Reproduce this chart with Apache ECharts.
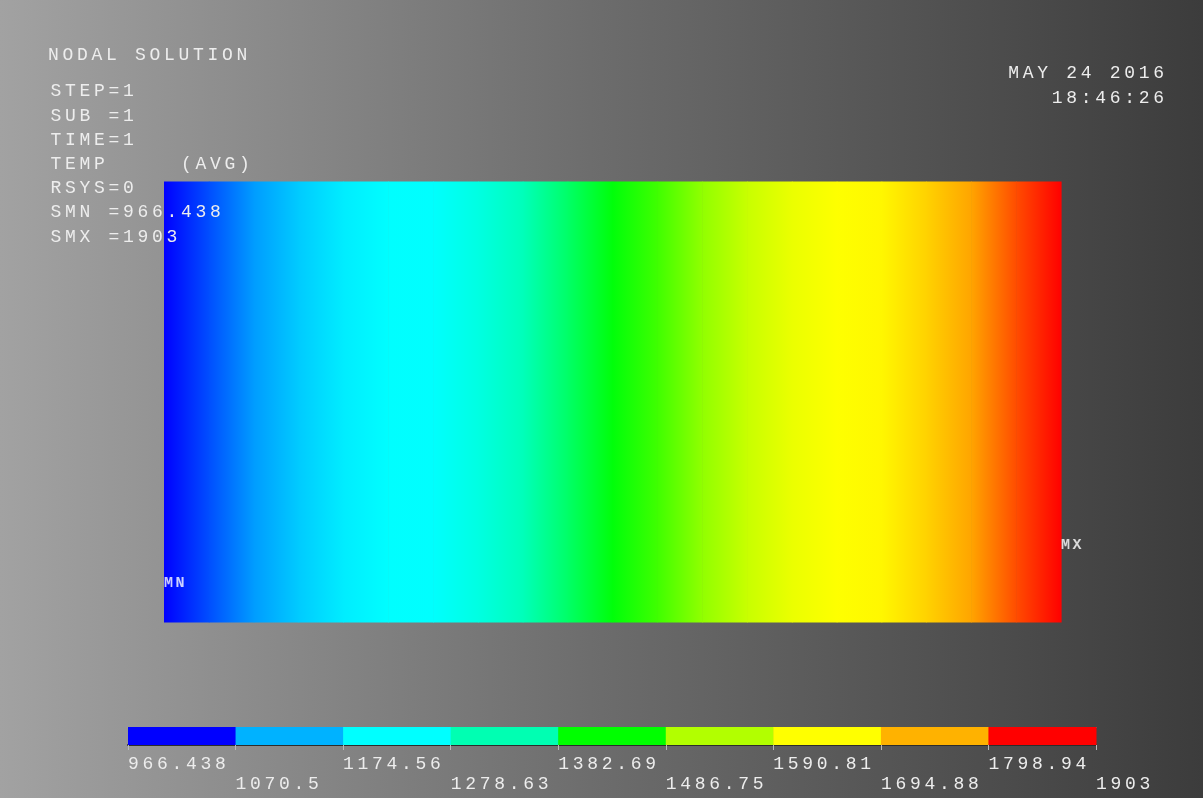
<!DOCTYPE html>
<html>
<head>
<meta charset="utf-8">
<title>NODAL SOLUTION - TEMP</title>
<script src="https://cdn.jsdelivr.net/npm/echarts@6/dist/echarts.min.js"></script>
<style>
  html, body { margin: 0; padding: 0; }
  #chart { width: 1203px; height: 798px; }
</style>
</head>
<body>
<div id="chart"></div>
<script>
// ---- result data -----------------------------------------------------------
const SMN = 966.438;
const SMX = 1903;

// node positions along the plate (m) and nodal temperatures (averaged)
const nodeX = [0, 0.01, 0.02, 0.03, 0.04, 0.05, 0.06, 0.07, 0.08, 0.09, 0.10,
               0.11, 0.12, 0.13, 0.14, 0.15, 0.16, 0.17, 0.18, 0.19, 0.20];
const nodeTemp = [966.438, 1018, 1069, 1122, 1173, 1199, 1202, 1244, 1305, 1367, 1428,
                  1476, 1530, 1585, 1639, 1668, 1681, 1737, 1795, 1853, 1903];
const plateHeight = 0.1;

// contour legend: band limits and their printed labels
const legendBounds = [966.438, 1070.5, 1174.56, 1278.63, 1382.69, 1486.75, 1590.81, 1694.88, 1798.94, 1903];
const legendLabels = ['966.438', '1070.5', '1174.56', '1278.63', '1382.69', '1486.75', '1590.81', '1694.88', '1798.94', '1903'];

// node locations of the minimum and maximum
const extremes = [
  { name: 'MN', pos: [0, 0.009] },
  { name: 'MX', pos: [0.2, 0.0176] }
];

// header text
const titleLine = 'NODAL SOLUTION';
const infoLines = ['STEP=1', 'SUB =1', 'TIME=1', 'TEMP     (AVG)', 'RSYS=0', 'SMN =' + SMN, 'SMX =' + SMX];
const dateLines = ['MAY 24 2016', '18:46:26'];

// ---- styling -----------------------------------------------------------------
const contourColors = ['#0000ff', '#00b2ff', '#00ffff', '#00ffb2', '#00ff00', '#b2ff00', '#ffff00', '#ffb200', '#ff0000'];
const FONT = 'Liberation Mono, Courier New, monospace';
const TEXT_COLOR = '#ededed';
const FONT_SIZE = 18;
const PITCH = 14.5;

function hexToRgb(h) {
  return [parseInt(h.slice(1, 3), 16), parseInt(h.slice(3, 5), 16), parseInt(h.slice(5, 7), 16)];
}
const paletteRgb = contourColors.map(hexToRgb);

// temperature -> contour colour (smooth shading across the palette)
function colorAt(t) {
  let f = (t - SMN) / (SMX - SMN);
  f = Math.max(0, Math.min(1, f));
  const s = f * (paletteRgb.length - 1);
  const i = Math.min(paletteRgb.length - 2, Math.floor(s));
  const k = s - i;
  const a = paletteRgb[i], b = paletteRgb[i + 1];
  const c = a.map((v, j) => Math.round(v + (b[j] - v) * k));
  return 'rgb(' + c.join(',') + ')';
}

// fixed-pitch text: every character sits in its own cell
function cells(str) {
  return str.split('').map(ch => '{c|' + ch + '}').join('');
}
function cellStyle(size, pitch, key) {
  const st = { width: pitch, fontFamily: FONT, fontSize: size, lineHeight: 20 };
  st[key] = TEXT_COLOR;
  return { c: st };
}
function label(str, x, y, align) {
  return {
    type: 'text', x: x, y: y, z: 100, silent: true,
    style: {
      text: cells(str),
      align: align || 'left',
      verticalAlign: 'middle',
      rich: cellStyle(FONT_SIZE, PITCH, 'fill')
    }
  };
}

const graphics = [label(titleLine, 48, 55.7)];
infoLines.forEach((s, i) => graphics.push(label(s, 50.5, 91.7 + i * 24.2)));
dateLines.forEach((s, i) => graphics.push(label(s, 1164, 73.3 + i * 25, 'right')));

// elements between neighbouring nodes
const elements = [];
for (let i = 0; i < nodeX.length - 1; i++) {
  elements.push([nodeX[i], nodeX[i + 1], nodeTemp[i], nodeTemp[i + 1]]);
}
// legend bands
const bands = [];
for (let i = 0; i < legendBounds.length - 1; i++) {
  bands.push([legendBounds[i], legendBounds[i + 1], i]);
}

function legendText(v) {
  let best = 0;
  legendBounds.forEach((b, i) => { if (Math.abs(b - v) < Math.abs(legendBounds[best] - v)) best = i; });
  return cells(legendLabels[best]);
}
const upperValues = legendBounds.filter((_, i) => i % 2 === 0);
const lowerValues = legendBounds.filter((_, i) => i % 2 === 1);

const chart = echarts.init(document.getElementById('chart'), null, { renderer: 'canvas' });
chart.setOption({
  animation: false,
  backgroundColor: {
    type: 'linear', x: 0, y: 0, x2: 1, y2: 0,
    colorStops: [
      { offset: 0, color: '#a2a2a2' },
      { offset: 0.5, color: '#6c6c6c' },
      { offset: 1, color: '#3c3c3c' }
    ]
  },
  grid: [
    { left: 164, top: 181.5, width: 897, height: 441, outerBoundsMode: 'none' },
    { left: 128, top: 727, width: 968, height: 18, outerBoundsMode: 'none' }
  ],
  xAxis: [
    { gridIndex: 0, type: 'value', min: 0, max: 0.2, show: false },
    {
      gridIndex: 1, type: 'value', min: SMN, max: SMX, position: 'bottom',
      splitLine: { show: false },
      axisLine: { show: true, lineStyle: { color: '#2c2c2c', width: 2 } },
      axisTick: { show: true, customValues: legendBounds, length: 5, lineStyle: { color: '#b8b8b8', width: 1 } },
      axisLabel: {
        customValues: upperValues, align: 'left', margin: 9,
        formatter: legendText, rich: cellStyle(FONT_SIZE, PITCH, 'color')
      }
    },
    {
      gridIndex: 1, type: 'value', min: SMN, max: SMX, position: 'bottom', offset: 20,
      splitLine: { show: false }, axisLine: { show: false }, axisTick: { show: false },
      axisLabel: {
        customValues: lowerValues, align: 'left', margin: 9,
        formatter: legendText, rich: cellStyle(FONT_SIZE, PITCH, 'color')
      }
    },
    {
      gridIndex: 1, type: 'value', min: SMN, max: SMX, position: 'top',
      splitLine: { show: false }, axisTick: { show: false }, axisLabel: { show: false },
      axisLine: { show: true, lineStyle: { color: '#a8a8a8', width: 1 } }
    }
  ],
  yAxis: [
    { gridIndex: 0, type: 'value', min: 0, max: plateHeight, show: false },
    { gridIndex: 1, type: 'value', min: 0, max: 1, show: false }
  ],
  graphic: graphics,
  series: [
    {
      // smooth-shaded temperature field
      type: 'custom', xAxisIndex: 0, yAxisIndex: 0, silent: true, z: 2,
      data: elements,
      encode: { x: [0, 1] },
      renderItem: function (params, api) {
        const tl = api.coord([api.value(0), plateHeight]);
        const br = api.coord([api.value(1), 0]);
        return {
          type: 'rect',
          shape: { x: tl[0], y: tl[1], width: br[0] - tl[0] + 0.6, height: br[1] - tl[1] },
          style: {
            fill: new echarts.graphic.LinearGradient(0, 0, 1, 0, [
              { offset: 0, color: colorAt(api.value(2)) },
              { offset: 1, color: colorAt(api.value(3)) }
            ])
          }
        };
      }
    },
    {
      // contour legend bands
      type: 'custom', xAxisIndex: 1, yAxisIndex: 1, silent: true, z: 2,
      data: bands,
      encode: { x: [0, 1] },
      renderItem: function (params, api) {
        const tl = api.coord([api.value(0), 1]);
        const br = api.coord([api.value(1), 0]);
        return {
          type: 'rect',
          shape: { x: tl[0], y: tl[1], width: br[0] - tl[0] + 0.5, height: br[1] - tl[1] },
          style: { fill: contourColors[api.value(2)] }
        };
      }
    },
    {
      // MN / MX node markers
      type: 'scatter', xAxisIndex: 0, yAxisIndex: 0, silent: true, z: 10,
      symbolSize: 0,
      data: extremes.map(e => ({ name: e.name, value: e.pos })),
      label: {
        show: true, position: 'right', distance: 0,
        formatter: p => cells(p.name),
        rich: { c: { width: 11.5, fontFamily: FONT, fontSize: 15, fontWeight: 'bold', color: '#ffffff' } }
      }
    }
  ]
});
</script>
</body>
</html>
